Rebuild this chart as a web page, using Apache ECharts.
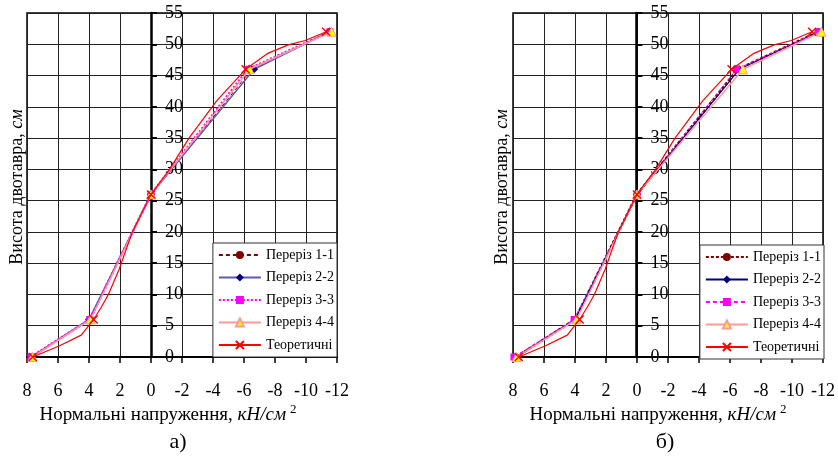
<!DOCTYPE html>
<html>
<head>
<meta charset="utf-8">
<script src="https://cdn.jsdelivr.net/npm/echarts@6/dist/echarts.min.js"></script>
<style>
html,body{margin:0;padding:0;background:#fff;}
#c{width:838px;height:457px;}
</style>
</head>
<body>
<div id="c"></div>
<script>
// ---- data ----
const sectionHeights = [0, 6, 26, 46, 52];
const legendLabels = ['Переріз 1-1', 'Переріз 2-2', 'Переріз 3-3', 'Переріз 4-4', 'Теоретичні'];
// chart а)
const aSec11 = [7.7, 3.9, 0, -6.5, -11.5];
const aSec22 = [7.7, 4.0, 0, -6.65, -11.5];
const aSec33 = [7.75, 3.95, 0, -6.25, -11.55];
const aSec44 = [7.65, 3.9, 0, -6.35, -11.65];
// chart б)
const bSec11 = [7.8, 4.0, 0, -6.5, -11.7];
const bSec22 = [7.8, 4.0, 0, -6.6, -11.7];
const bSec33 = [7.94, 4.06, 0, -6.41, -11.7];
const bSec44 = [7.76, 3.9, 0, -6.84, -11.9];
// theoretical curve
const theoryX = [7.63, 5.9, 4.5, 3.7, 3.2, 2.75, 2.06, 1.2, 0, -1.2, -2.45, -4.25, -6.1, -7.5, -8.85, -9.95, -11.3];
const theoryY = [0, 1.8, 3.5, 6, 8, 10, 14, 20, 26, 30, 35, 41, 46, 48.5, 49.9, 50.6, 52];
const xTicks = {min: -12, max: 8, step: 2};
const yTicks = {min: 0, max: 55, step: 5};

// ---- build ----
const FONT = 'Liberation Serif';
const chart = echarts.init(document.getElementById('c'), null, {renderer: 'canvas'});
const grids = [
  {left: 27, top: 13, width: 310, height: 344},
  {left: 513, top: 13, width: 311, height: 344}
];

function pairs(xs) { return xs.map((x, i) => [x, sectionHeights[i]]); }
function theoryData() {
  return theoryX.map((x, i) => ({
    value: [x, theoryY[i]],
    symbolSize: sectionHeights.includes(theoryY[i]) ? 8 : 0
  }));
}
const XPATH = 'path://M0,0L10,10M10,0L0,10';

function makeSeries(prefix, gi, secs, styles) {
  const out = [];
  const syms = [
    {symbol: 'circle', symbolSize: 7, itemStyle: {color: '#800000'}},
    {symbol: 'diamond', symbolSize: 8, itemStyle: {color: '#000080'}},
    {symbol: 'rect', symbolSize: 7, itemStyle: {color: '#ff00ff'}},
    {symbol: 'triangle', symbolSize: 9, itemStyle: {color: '#ffff00', borderColor: '#ff9999', borderWidth: 1}}
  ];
  secs.forEach((s, k) => {
    out.push(Object.assign({
      type: 'line', name: prefix + k, xAxisIndex: gi, yAxisIndex: gi,
      data: pairs(s), lineStyle: styles[k], clip: false, z: 3 + k
    }, syms[k]));
  });
  out.push({
    type: 'line', name: prefix + 4, xAxisIndex: gi, yAxisIndex: gi,
    data: theoryData(), symbol: XPATH, symbolSize: 8, clip: false, z: 8,
    lineStyle: {color: '#ff0000', width: 1.2},
    itemStyle: {color: '#ff0000', borderColor: '#ff0000', borderWidth: 1.4}
  });
  return out;
}

const aStyles = [
  {color: '#800000', width: 1, type: [4, 3]},
  {color: '#5b5bb5', width: 1.5},
  {color: '#ff00ff', width: 2.5, type: [2, 2]},
  {color: '#ff9999', width: 1.5}
];
const bStyles = [
  {color: '#800000', width: 2.5, type: [3, 2]},
  {color: '#000080', width: 1.2},
  {color: '#ff00ff', width: 1, type: [4, 3]},
  {color: '#ff9999', width: 1.5}
];

function xAxisCfg(gi) {
  return {
    type: 'value', gridIndex: gi, min: xTicks.min, max: xTicks.max, interval: xTicks.step, inverse: true,
    axisLine: {onZero: false, lineStyle: {color: '#000', width: 2}},
    axisTick: {show: true, length: 6, lineStyle: {color: '#000', width: 1.5}},
    axisLabel: {margin: 25, fontFamily: FONT, fontSize: 18, color: '#000'},
    splitLine: {show: true, lineStyle: {color: '#222', width: 1}}
  };
}
function yAxisCfg(gi) {
  // place the vertical axis where x = 0 (x axis inverted: max on the left)
  const g = grids[gi];
  const zeroFromLeft = g.width * (xTicks.max - 0) / (xTicks.max - xTicks.min);
  return {
    type: 'value', gridIndex: gi, min: yTicks.min, max: yTicks.max, interval: yTicks.step, position: 'right',
    offset: -(g.width - zeroFromLeft),
    axisLine: {onZero: false, lineStyle: {color: '#000', width: 2.5}},
    axisTick: {show: true, length: 6, lineStyle: {color: '#000', width: 2}},
    axisLabel: {margin: 14, fontFamily: FONT, fontSize: 18, color: '#000', padding: [6, 0, 0, 0]},
    splitLine: {show: true, lineStyle: {color: '#222', width: 1}}
  };
}
function legendCfg(prefix, right, top) {
  return {
    orient: 'vertical', right: right, top: top,
    data: [0, 1, 2, 3, 4].map(k => prefix + k),
    formatter: name => legendLabels[+name.slice(prefix.length)],
    backgroundColor: '#fff', borderColor: '#333', borderWidth: 1,
    padding: [5, 3, 5, 5], itemWidth: 42, itemHeight: 10, itemGap: 8.5,
    selectedMode: false,
    textStyle: {fontFamily: FONT, fontSize: 14, lineHeight: 14, color: '#000'}
  };
}
function yTitle(x) {
  return {
    type: 'text', x: x, y: 187, rotation: Math.PI / 2, z: 10,
    style: {
      text: '{n|Висота двотавра, }{i|см}', align: 'center', verticalAlign: 'middle', fill: '#000',
      rich: {n: {fontFamily: FONT, fontSize: 18, fill: '#000'}, i: {fontFamily: FONT, fontSize: 18, fontStyle: 'italic', fill: '#000'}}
    }
  };
}
function xTitle(x) {
  return {
    type: 'text', x: x, y: 415, z: 10,
    style: {
      text: '{n|Нормальні напруження, }{i|кН/см}{s|2}', align: 'center', verticalAlign: 'middle', fill: '#000',
      rich: {
        n: {fontFamily: FONT, fontSize: 19, fill: '#000', lineHeight: 24},
        i: {fontFamily: FONT, fontSize: 19, fontStyle: 'italic', fill: '#000', lineHeight: 24},
        s: {fontFamily: FONT, fontSize: 13, fill: '#000', verticalAlign: 'top', padding: [0, 0, 0, 4]}
      }
    }
  };
}
function subLabel(x, t) {
  return {type: 'text', x: x, y: 442, z: 10,
    style: {text: t, align: 'center', verticalAlign: 'middle', fill: '#000', fontFamily: FONT, fontSize: 22}};
}

chart.setOption({
  animation: false,
  backgroundColor: '#fff',
  grid: grids.map(g => Object.assign({show: true, borderColor: '#000', borderWidth: 1.5, backgroundColor: 'transparent'}, g)),
  xAxis: [xAxisCfg(0), xAxisCfg(1)],
  yAxis: [yAxisCfg(0), yAxisCfg(1)],
  legend: [legendCfg('a', 838 - 337, 243), legendCfg('b', 838 - 824, 245)],
  series: makeSeries('a', 0, [aSec11, aSec22, aSec33, aSec44], aStyles)
    .concat(makeSeries('b', 1, [bSec11, bSec22, bSec33, bSec44], bStyles)),
  graphic: [yTitle(17), yTitle(502), xTitle(168), xTitle(658), subLabel(178, 'а)'), subLabel(665, 'б)')]
});
</script>
</body>
</html>
